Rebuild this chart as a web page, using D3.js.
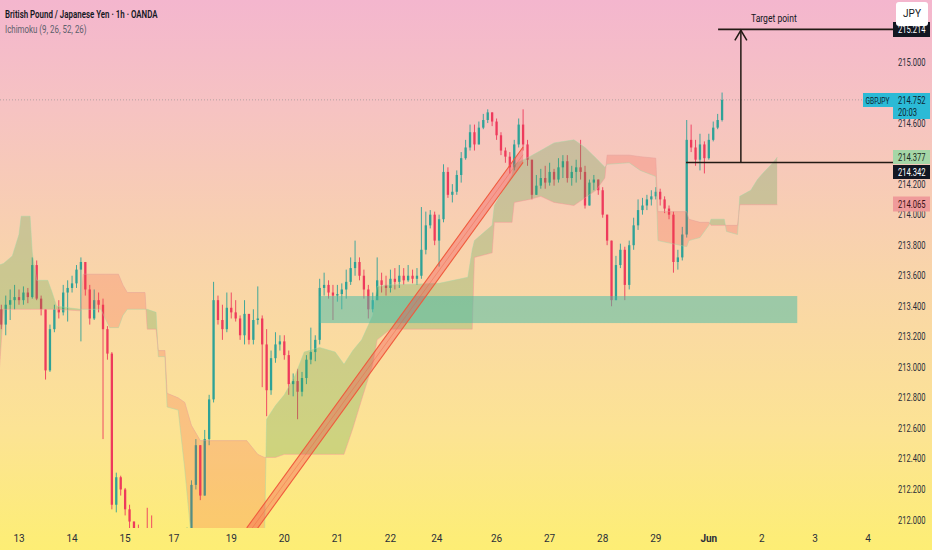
<!DOCTYPE html>
<html><head><meta charset="utf-8">
<script src="https://cdn.jsdelivr.net/npm/d3@7/dist/d3.min.js"></script>
<style>html,body{margin:0;padding:0;overflow:hidden;background:#fad6a6}svg{display:block}</style>
</head><body>
<svg id="c" width="932" height="550"></svg>
<script>
// ---------- data ----------
const tickLabels = ['13','14','15','17','19','20','21','22','24','26','27','28','29','Jun','2','3','4'];
const tickHours  = [9,33,57,79,105,129,153,177,198,225,249,273,297,321,345,369,393];
const priceTicks = [212.0,212.2,212.4,212.6,212.8,213.0,213.2,213.4,213.6,213.8,214.0,214.2,214.6,214.8,215.0];

const firstOpen = 213.38;
const closes = [213.28,213.41,213.44,213.46,213.44,213.49,213.46,213.67,213.45,213.38,
212.98,213.25,213.38,213.36,213.49,213.52,213.55,213.64,213.69,213.51,
213.32,213.44,213.41,213.25,213.09,212.10,212.28,212.20,212.07,211.99,
211.90,211.87,211.90,211.88,211.87,211.84,211.80,211.82,211.84,211.86,
211.87,211.84,211.90,212.23,212.49,212.16,212.53,212.79,213.44,213.31,
213.25,213.39,213.36,213.32,213.21,213.35,213.18,213.31,213.32,213.15,
212.85,213.06,213.15,213.17,213.08,212.89,212.91,212.84,212.93,213.05,
213.10,213.18,213.52,213.54,213.49,213.47,213.48,213.51,213.56,213.65,
213.69,213.60,213.51,213.38,213.44,213.57,213.54,213.52,213.58,213.56,
213.60,213.57,213.60,213.58,213.60,213.77,213.93,214.00,213.83,213.97,
214.28,214.13,214.15,214.26,214.37,214.44,214.54,214.46,214.57,214.62,
214.67,214.61,214.52,214.42,214.38,214.31,214.46,214.59,214.46,214.36,
214.13,214.19,214.24,214.21,214.28,214.23,214.31,214.35,214.24,214.28,
214.31,214.28,214.06,214.21,214.23,214.16,214.00,213.83,213.44,213.67,
213.77,213.54,213.80,213.93,214.03,214.06,214.10,214.12,214.15,214.10,
214.04,214.00,213.69,213.72,213.87,214.49,214.44,214.36,214.46,214.37,
214.49,214.57,214.62,214.752];
const highs = [213.41,213.47,213.51,213.54,213.51,213.53,213.52,213.72,213.70,213.47,
213.38,213.28,213.41,213.44,213.54,213.57,213.60,213.67,213.72,213.69,
213.54,213.51,213.49,213.45,213.27,213.10,212.31,212.29,212.21,212.10,
211.99,211.97,211.93,212.08,212.03,211.90,211.87,211.88,211.90,211.92,
211.94,211.90,211.95,212.26,212.53,212.49,212.59,212.82,213.56,213.47,
213.41,213.49,213.49,213.44,213.34,213.44,213.35,213.38,213.53,213.34,
213.25,213.11,213.23,213.21,213.21,213.11,212.96,212.99,212.97,213.08,
213.26,213.21,213.58,213.62,213.57,213.54,213.54,213.55,213.64,213.72,
213.83,213.72,213.64,213.54,213.49,213.72,213.62,213.60,213.64,213.65,
213.67,213.65,213.67,213.64,213.65,214.05,214.02,214.03,214.02,214.00,
214.33,214.31,214.20,214.29,214.41,214.49,214.59,214.59,214.61,214.66,
214.69,214.67,214.63,214.54,214.44,214.41,214.49,214.63,214.69,214.49,
214.36,214.26,214.30,214.32,214.34,214.30,214.37,214.39,214.39,214.32,
214.36,214.49,214.32,214.23,214.26,214.23,214.18,214.00,213.83,213.73,
213.81,213.79,213.83,213.98,214.10,214.11,214.13,214.16,214.18,214.17,
214.12,214.06,214.02,213.77,213.92,214.62,214.59,214.49,214.53,214.48,
214.53,214.61,214.66,214.80];
const lows = [213.25,213.21,213.31,213.38,213.41,213.41,213.42,213.45,213.44,213.34,
212.92,212.97,213.23,213.32,213.34,213.30,213.49,213.52,213.17,213.47,
213.28,213.31,213.36,212.53,213.05,212.07,212.05,212.16,212.03,211.94,
211.87,211.82,211.84,211.84,211.82,211.77,211.74,211.75,211.77,211.79,
211.80,211.77,211.84,211.94,212.20,212.13,212.16,212.49,212.77,213.28,
213.18,213.23,213.32,213.30,213.18,213.15,213.15,213.15,213.28,212.87,
212.68,212.82,213.03,213.11,213.05,212.82,212.81,212.66,212.81,212.89,
213.02,213.04,213.15,213.47,213.45,213.31,213.43,213.38,213.45,213.54,
213.60,213.57,213.45,213.32,213.36,213.44,213.49,213.47,213.49,213.51,
213.52,213.54,213.56,213.55,213.54,213.58,213.74,213.91,213.80,213.66,
213.95,214.11,214.08,214.13,214.21,214.36,214.42,214.42,214.49,214.56,
214.60,214.58,214.49,214.39,214.34,214.27,214.29,214.44,214.42,214.32,
214.10,214.13,214.17,214.17,214.19,214.19,214.21,214.24,214.21,214.19,
214.21,214.23,214.04,214.10,214.16,214.13,213.98,213.80,213.40,213.47,
213.65,213.44,213.51,213.77,213.90,214.00,214.03,214.06,214.10,214.06,
214.01,213.97,213.62,213.64,213.70,213.85,214.41,214.32,214.29,214.27,
214.36,214.48,214.56,214.61];

// Ichimoku leading spans (already shifted forward 26 bars)
const cloudHours = [0,2,6,9,10,14,15,17,22,24,26,37,38,46,48,50,54,56,58,66,67,71,72,75,76,81,84,87,91,112,117,120,121,125,129,134,138,145,152,156,160,164,169,171,177,199,212,214,215,223,224,232,233,240,245,251,260,265,270,274,275,285,290,297,298,311,312,317,321,322,328,329,334,335,340,343,346,350,352];
const spanA = [213.67,213.68,213.73,213.87,213.99,213.99,213.75,213.57,213.57,213.49,213.40,213.38,213.38,213.38,213.32,213.26,213.26,213.34,213.38,213.38,213.38,213.36,213.07,213.07,212.74,212.72,212.33,211.87,211.84,211.84,211.84,211.84,212.66,212.75,212.82,212.95,213.10,213.13,213.10,213.02,213.11,213.18,213.34,213.53,213.54,213.55,213.59,213.77,213.83,213.93,214.06,214.26,214.33,214.38,214.42,214.47,214.49,214.44,214.37,214.31,214.33,214.34,214.29,214.25,213.83,213.79,213.83,213.85,213.93,213.97,213.97,213.89,213.87,214.12,214.16,214.23,214.28,214.34,214.377];
const spanB = [212.96,213.38,213.38,213.38,213.38,213.38,213.38,213.38,213.38,213.38,213.38,213.37,213.61,213.61,213.61,213.61,213.61,213.54,213.49,213.49,213.25,213.25,213.11,213.11,212.83,212.80,212.77,212.62,212.52,212.52,212.43,212.41,212.41,212.41,212.43,212.43,212.43,212.43,212.43,212.43,212.60,212.79,213.02,213.18,213.25,213.25,213.25,213.25,213.72,213.75,213.95,213.95,214.08,214.10,214.12,214.08,214.06,214.11,214.16,214.24,214.39,214.39,214.38,214.37,214.02,214.02,213.97,213.95,213.95,213.93,213.93,213.93,213.93,214.065,214.065,214.065,214.065,214.065,214.065];

const zone = {h0:145, h1:361, pTop:213.467, pBot:213.29};
const channel = {h0:112, p0:211.948, h1:237, p1:214.443, width:0.10};
const entryLevel = 214.342, targetLevel = 215.214, lastPrice = 214.752;
const entryStartH = 310.7, targetStartH = 325.2, arrowH = 335.5;
const leadA = 214.377, leadB = 214.065;

// ---------- scales ----------
const W = 932, H = 550, plotR = 893, plotB = 528;
const x = d3.scaleLinear().domain([9,393]).range([19,868]);
const y = d3.scaleLinear().domain([212,215]).range([520,62]);
const svg = d3.select('#c');
const defs = svg.append('defs');
const grad = defs.append('linearGradient').attr('id','bg').attr('x1',0).attr('y1',0).attr('x2',0).attr('y2',1);
[[0,'#f4b6ce'],[0.2,'#f6c3c2'],[0.5,'#f9d5a9'],[0.78,'#fce394'],[1,'#fdee74']].forEach(s=>grad.append('stop').attr('offset',s[0]).attr('stop-color',s[1]));
svg.append('rect').attr('width',W).attr('height',H).attr('fill','url(#bg)');

defs.append('clipPath').attr('id','plot').append('rect').attr('x',0).attr('y',0).attr('width',plotR).attr('height',plotB);
defs.append('clipPath').attr('id','topOnly').append('rect').attr('x',880).attr('y',0).attr('width',52).attr('height',93);

const cloud = cloudHours.map((h,i)=>({h, a:spanA[i], b:spanB[i]}));
defs.append('clipPath').attr('id','aboveB').append('path')
  .attr('d', d3.area().x(d=>x(d.h)).y0(0).y1(d=>y(d.b))(cloud));
defs.append('clipPath').attr('id','belowB').append('path')
  .attr('d', d3.area().x(d=>x(d.h)).y0(d=>y(d.b)).y1(H)(cloud));

const plot = svg.append('g').attr('clip-path','url(#plot)');

// ---------- candles ----------
const candles = closes.map((c,i)=>{
  const o = i===0 ? firstOpen : closes[i-1];
  return {h:1+2*i, o, c, hi:Math.max(highs[i],o,c), lo:Math.min(lows[i],o,c)};
});
const upCol = '#2ea297', dnCol = '#ee3a5c';
const cg = plot.append('g');
cg.selectAll('line').data(candles).join('line')
  .attr('x1',d=>x(d.h)).attr('x2',d=>x(d.h))
  .attr('y1',d=>y(d.hi)).attr('y2',d=>y(d.lo))
  .attr('stroke',d=>d.c>=d.o?upCol:dnCol).attr('stroke-width',0.9);
cg.selectAll('rect').data(candles).join('rect')
  .attr('x',d=>x(d.h)-1.15).attr('width',2.3)
  .attr('y',d=>y(Math.max(d.o,d.c)))
  .attr('height',d=>Math.max(1,Math.abs(y(d.o)-y(d.c))))
  .attr('fill',d=>d.c>=d.o?upCol:dnCol);

// ---------- ichimoku cloud ----------
const between = d3.area().x(d=>x(d.h)).y0(d=>y(d.b)).y1(d=>y(d.a));
plot.append('path').attr('d',between(cloud)).attr('fill','rgba(67,160,71,0.25)').attr('clip-path','url(#aboveB)');
plot.append('path').attr('d',between(cloud)).attr('fill','rgba(244,67,54,0.2)').attr('clip-path','url(#belowB)');
plot.append('path').attr('d',d3.line().x(d=>x(d.h)).y(d=>y(d.a))(cloud)).attr('fill','none').attr('stroke','#A5D6A7').attr('stroke-opacity',0.45).attr('stroke-width',1);
plot.append('path').attr('d',d3.line().x(d=>x(d.h)).y(d=>y(d.b))(cloud)).attr('fill','none').attr('stroke','#EF9A9A').attr('stroke-opacity',0.45).attr('stroke-width',1);

// ---------- zone ----------
plot.append('rect').attr('x',x(zone.h0)).attr('width',x(zone.h1)-x(zone.h0))
  .attr('y',y(zone.pTop)).attr('height',y(zone.pBot)-y(zone.pTop))
  .attr('fill','rgba(70,188,168,0.52)');

// ---------- channel ----------
const c0a=[x(channel.h0),y(channel.p0)], c1a=[x(channel.h1),y(channel.p1)];
const c0b=[x(channel.h0),y(channel.p0-channel.width)], c1b=[x(channel.h1),y(channel.p1-channel.width)];
plot.append('path').attr('d',`M${c0a}L${c1a}L${c1b}L${c0b}Z`).attr('fill','rgba(242,54,69,0.32)');
[[c0a,c1a],[c0b,c1b]].forEach(p=>plot.append('line').attr('x1',p[0][0]).attr('y1',p[0][1]).attr('x2',p[1][0]).attr('y2',p[1][1]).attr('stroke','#f05a3c').attr('stroke-width',1.1));
plot.append('line').attr('x1',x(channel.h0)).attr('y1',y(channel.p0-channel.width/2)).attr('x2',x(channel.h1)).attr('y2',y(channel.p1-channel.width/2)).attr('stroke','#f05a3c').attr('stroke-opacity',0.45).attr('stroke-width',0.8);

// ---------- last price dotted line ----------
svg.append('line').attr('x1',0).attr('x2',863).attr('y1',y(lastPrice)).attr('y2',y(lastPrice))
  .attr('stroke','#8c8c8c').attr('stroke-opacity',0.6).attr('stroke-dasharray','1,2');

// ---------- target drawing ----------
const ink = '#221a14';
svg.append('line').attr('x1',x(entryStartH)).attr('x2',plotR).attr('y1',y(entryLevel)).attr('y2',y(entryLevel)).attr('stroke',ink).attr('stroke-width',1.6);
svg.append('line').attr('x1',x(targetStartH)).attr('x2',plotR).attr('y1',y(targetLevel)).attr('y2',y(targetLevel)).attr('stroke',ink).attr('stroke-width',1.6);
const ax = x(arrowH), ty = y(targetLevel)+1;
svg.append('line').attr('x1',ax).attr('x2',ax).attr('y1',y(entryLevel)).attr('y2',ty).attr('stroke',ink).attr('stroke-width',1.5);
svg.append('path').attr('d',`M${ax-6},${ty+10}L${ax},${ty}L${ax+6},${ty+10}`).attr('fill','none').attr('stroke',ink).attr('stroke-width',1.5);

const ff = 'Roboto, "Noto Sans", "DejaVu Sans", sans-serif';
// narrow text helper: horizontal squeeze via transform (real text)
function ntext(parent, tx, ty, str, size, sx, fill, anchor, weight){
  return parent.append('text').attr('transform',`translate(${tx},${ty}) scale(${sx},1)`)
    .attr('font-family',ff).attr('font-size',size).attr('fill',fill)
    .attr('text-anchor',anchor||'start').attr('font-weight',weight||400).text(str);
}
ntext(svg, ax+33, 22, 'Target point', 11, 0.78, '#131722', 'middle');

// ---------- header ----------
ntext(svg, 5, 18, 'British Pound / Japanese Yen · 1h · OANDA', 11, 0.72, '#131722', 'start', 600);
ntext(svg, 5, 33, 'Ichimoku (9, 26, 52, 26)', 11, 0.72, '#5d606b');

// ---------- axes ----------
const yg = svg.append('g');
priceTicks.forEach(p=>{
  const t = ntext(yg, 898, y(p)+3.5, p.toFixed(3), 10, 0.76, '#2a2e39');
  if (p === 214.8) t.attr('clip-path','url(#topOnly)');
});
const xg = svg.append('g');
xg.selectAll('text').data(tickLabels).join('text')
  .attr('x',(d,i)=>x(tickHours[i])).attr('y',542).attr('text-anchor','middle')
  .attr('font-family',ff).attr('font-size',10).attr('fill','#2a2e39')
  .attr('font-weight',d=>d==='Jun'?700:400)
  .text(d=>d);

// ---------- price labels ----------
function box(yc, h, bg, fg, str){
  svg.append('rect').attr('x',893).attr('y',yc-h/2).attr('width',37).attr('height',h).attr('fill',bg);
  ntext(svg, 898, yc+3.5, str, 10, 0.76, fg);
}
box(29.5, 15, '#131722', '#ffffff', targetLevel.toFixed(3));
// JPY currency badge
svg.append('rect').attr('x',896).attr('y',2).attr('width',32).attr('height',24).attr('rx',3).attr('fill','#ffffff');
svg.append('text').attr('x',912).attr('y',17).attr('text-anchor','middle').attr('font-family',ff).attr('font-size',10).attr('fill','#131722').text('JPY');
// last price
svg.append('rect').attr('x',863).attr('y',93).attr('width',30).attr('height',14).attr('fill','#2bbad6');
ntext(svg, 865.5, 103.5, 'GBPJPY', 9.5, 0.7, '#0e2633');
svg.append('rect').attr('x',893).attr('y',93).attr('width',37).attr('height',26).attr('fill','#2bbad6');
ntext(svg, 898, 103.5, lastPrice.toFixed(3), 10, 0.76, '#0e2633');
ntext(svg, 898, 115.5, '20:03', 10, 0.76, '#0e2633');
box(157, 14, '#A5D6A7', '#1b2b1c', leadA.toFixed(3));
box(172, 14, '#131722', '#ffffff', entryLevel.toFixed(3));
box(204, 15, '#EF9A9A', '#3a1216', leadB.toFixed(3));
</script>
</body></html>
